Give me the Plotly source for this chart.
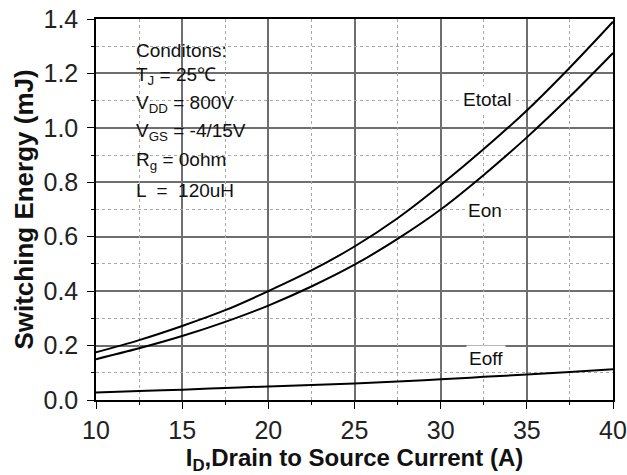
import plotly.graph_objects as go

current = [10, 12.5, 15, 17.5, 20, 22.5, 25, 27.5, 30, 32.5, 35, 37.5, 40]
etotal = [0.175, 0.22, 0.272, 0.33, 0.40, 0.476, 0.564, 0.668, 0.79, 0.922, 1.064, 1.222, 1.39]
eon = [0.15, 0.19, 0.235, 0.287, 0.347, 0.417, 0.497, 0.592, 0.70, 0.827, 0.965, 1.115, 1.275]
eoff = [0.028, 0.033, 0.038, 0.044, 0.05, 0.055, 0.061, 0.068, 0.076, 0.085, 0.094, 0.103, 0.113]

labels = ["Etotal", "Eon", "Eoff"]
label_x = [32.7, 32.6, 32.65]
label_y = [1.105, 0.698, 0.153]

cond_lines = [
    "Conditons:",
    "T<sub>J</sub> = 25\u2103",
    "V<sub>DD</sub> = 800V",
    "V<sub>GS</sub> = -4/15V",
    "R<sub>g</sub> = 0ohm",
    "L  =  120uH",
]

FONT = "Liberation Sans, Arial, sans-serif"
XR = [10, 40]
YR = [0, 1.4]

fig = go.Figure()
for ys in (etotal, eon):
    fig.add_trace(go.Scatter(x=current, y=ys, mode="lines",
                             line=dict(color="black", width=2, shape="spline", smoothing=1.0),
                             showlegend=False, hoverinfo="skip"))
# Eoff drawn on the overlay axes (same ranges) that carry the minor grid
fig.add_trace(go.Scatter(x=current, y=eoff, mode="lines", xaxis="x2", yaxis="y2",
                         line=dict(color="black", width=2, shape="spline", smoothing=1.0),
                         showlegend=False, hoverinfo="skip"))

for t, x, y in zip(labels, label_x, label_y):
    fig.add_annotation(x=x, y=y, text=t, showarrow=False, bgcolor="white",
                       font=dict(family=FONT, size=19, color="#111"), borderpad=2)

cond_y_px = [50, 76, 104, 132, 161, 190]
for t, ypx in zip(cond_lines, cond_y_px):
    fig.add_annotation(xref="paper", yref="paper", x=(134 - 96) / 517,
                       y=(400 - ypx) / 381, xanchor="left", yanchor="middle",
                       text=t, showarrow=False,
                       font=dict(family=FONT, size=19, color="#111"))

major = dict(
    showline=True, linecolor="black", linewidth=1.5, mirror=True,
    ticks="outside", ticklen=7, tickwidth=1.2, tickcolor="black",
    tickfont=dict(family=FONT, size=25, color="#222"),
    zeroline=False, automargin=False,
    showgrid=True, gridcolor="#6e6e6e", gridwidth=1.6,
)
minor = dict(
    showline=False, ticks="outside", ticklen=4, tickwidth=1.2, tickcolor="black",
    showticklabels=False, zeroline=False, automargin=False,
    showgrid=True, gridcolor="#a8a8a8", griddash="dot", gridwidth=1.4,
)

fig.update_layout(
    template="none",
    width=627, height=475,
    margin=dict(l=96, r=14, t=19, b=75),
    paper_bgcolor="white", plot_bgcolor="white",
    xaxis=dict(range=XR, tick0=10, dtick=5, **major,
               title=dict(text="I<sub>D</sub>,Drain to Source Current (A)", standoff=6,
                          font=dict(family=FONT, size=24, color="#111", weight="bold"))),
    yaxis=dict(range=YR, tick0=0, dtick=0.2, tickformat=".1f", ticklabelstandoff=4, **major,
               title=dict(text="Switching Energy (mJ)", standoff=2,
                          font=dict(family=FONT, size=26, color="#111", weight="bold"))),
    xaxis2=dict(range=XR, tick0=12.5, dtick=5, overlaying="x", anchor="y2", side="bottom", **minor),
    yaxis2=dict(range=YR, tick0=0.1, dtick=0.2, overlaying="y", anchor="x2", side="left", **minor),
)

fig.write_html("out.html", post_script="document.body.style.margin='0';",
               config={"displayModeBar": False})
